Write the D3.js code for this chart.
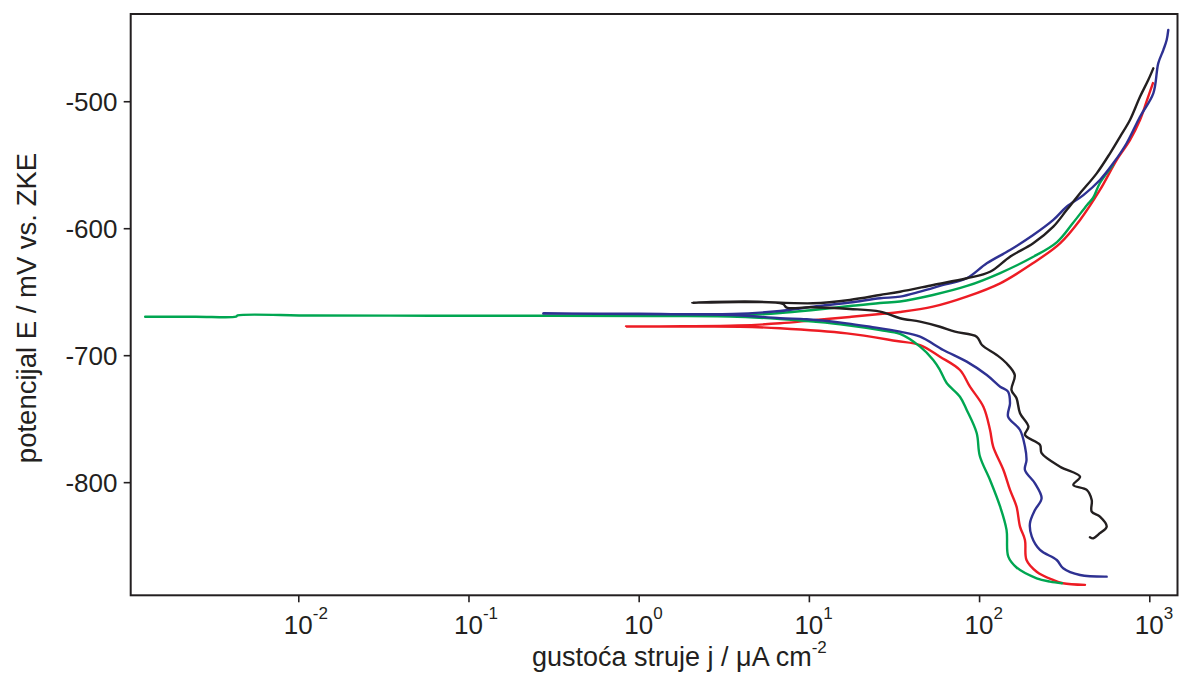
<!DOCTYPE html>
<html><head><meta charset="utf-8">
<script src="https://cdn.jsdelivr.net/npm/d3@7"></script>
<style>
body{margin:0;background:#fff}
svg{display:block}
text{font-family:"Liberation Sans",Arial,sans-serif;fill:#231f20}
</style>
</head><body>
<svg id="chart" width="1181" height="674"></svg>
<script>
// ---- data (j in µA cm^-2, E in mV vs. ZKE), in scan order ----
const xTickValues = [1e-2, 1e-1, 1, 10, 100, 1000];
const xTickExponents = ["-2", "-1", "0", "1", "2", "3"];
const yTickValues = [-500, -600, -700, -800];
const seriesNames = ["red", "green", "blue", "black"];

const redCurve = [
  [419,-880.9],[311,-879.6],[272,-877.0],[218,-870.5],[190,-861.3],[186,-845.5],[174,-835.0],[166,-819.3],
  [152,-806.1],[139,-790.4],[121,-772.0],[116,-758.9],[106,-740.6],[88.4,-724.8],[77.2,-711.7],[58.9,-701.2],
  [45.0,-692.0],[32.8,-688.8],[16.7,-682.8],[6.77,-678.8],[3.94,-677.6],[1.8,-677.5],
  [0.842,-677.4],
  [1.8,-677.2],[3.83,-676.6],[6.77,-674.9],[10.6,-672.5],[17.4,-669.9],[26.2,-667.6],[34.3,-666.0],[53.6,-661.8],
  [84.6,-653.9],[133,-643.4],[207,-627.6],[299,-611.9],[392,-593.5],[513,-569.9],[643,-546.3],[770,-530.6],
  [882,-514.8],[970,-499.1],[1051,-485.7]
];

const greenCurve = [
  [307,-879.6],[261,-878.3],[218,-875.7],[166,-867.2],[148.5,-858.7],[145,-837.6],[133,-819.3],[116,-798.3],
  [101,-779.4],[96.8,-761.3],[84.6,-743.1],[77.2,-732.7],[64.5,-721.9],[58.9,-711.7],[53.8,-703.8],[45.0,-693.3],
  [34.3,-683.3],[26.2,-680.2],[16.5,-676.2],[10.6,-673.6],[6.77,-671.5],[3.44,-669.5],
  [1.2,-669.2],[0.3,-669.0],[0.06,-668.9],[0.012,-668.8],[0.0044,-668.7],[0.0043,-669.7],[0.0025,-669.7],
  [0.00126,-669.7],
  [0.0025,-669.7],[0.0043,-669.7],[0.0044,-668.7],[0.012,-668.8],[0.06,-668.9],[0.3,-669.0],[1.2,-669.0],
  [3.44,-668.9],[6.77,-666.8],[10.6,-664.4],[17.4,-661.3],[26.2,-658.9],[34.3,-657.7],[53.6,-652.6],
  [84.9,-645.5],[133,-635.3],[207,-622.7],[287,-610.9],[356,-595.9],[431,-581.7],[467,-576.2],[513,-564.4],
  [612,-550.2]
];

const blueCurve = [
  [562,-874.4],[392,-873.1],[312,-867.8],[286,-861.3],[228,-853.4],[204,-842.9],[199,-832.4],[213,-821.9],
  [233,-812.7],[213,-800.9],[186,-790.4],[190,-782.5],[186,-772.0],[174,-758.9],[148,-748.4],[152,-737.9],
  [148,-728.7],[133,-724.8],[111,-715.6],[84.6,-705.1],[61.6,-695.9],[45.0,-685.4],[34.3,-681.5],[22.9,-677.6],
  [16.7,-674.9],[9.71,-671.7],[6.77,-670.9],[3.58,-668.3],[1.0,-667.7],
  [0.275,-667.2],
  [1.0,-667.4],[3.58,-667.6],[6.77,-665.2],[10.6,-661.8],[17.4,-658.5],[26.2,-655.2],[34.3,-653.9],[45.0,-650.0],
  [61.6,-644.7],[84.6,-639.4],[111,-627.6],[152,-617.2],[208,-605.4],[273,-593.5],[327,-583.1],[410,-573.9],
  [513,-562.0],[614,-548.9],[736,-533.1],[882,-512.2],[1056,-493.8],[1129,-470.2],[1209,-459.7],[1265,-451.8],
  [1293,-443.9]
];

const blackCurve = [
  [448,-843.4],[469,-844.2],[513,-840.2],[562,-835.0],[513,-827.2],[459,-823.2],[459,-814.0],[429,-806.1],
  [358,-802.2],[392,-795.7],[299,-787.8],[233,-777.2],[228,-770.7],[186,-762.8],[195,-756.3],[174,-745.7],
  [166,-733.9],[155,-727.4],[162,-715.6],[145,-706.4],[127,-699.8],[104,-692.0],[96.8,-685.4],[72.2,-681.5],
  [58.9,-677.6],[45.0,-673.6],[34.3,-670.9],[26.2,-665.7],[17.4,-663.6],[10.2,-662.3],[7.41,-662.6],
  [7.04,-659.7],[4.21,-658.1],[2.06,-658.7],[4.21,-657.7],[10.6,-659.1],
  [17.4,-656.5],[26.2,-652.6],[34.3,-650.0],[53.8,-644.7],[84.6,-639.4],[116,-634.3],[152,-622.4],[208,-611.9],
  [273,-598.8],[327,-585.7],[392,-572.5],[491,-556.8],[588,-541.0],[673,-528.0],[770,-514.8],[882,-496.5],
  [986,-483.3],[1056,-474.1]
];

const curves = {red: redCurve, green: greenCurve, blue: blueCurve, black: blackCurve};
const colors = {red: "#ed1c24", green: "#00a651", blue: "#2e3192", black: "#231f20"};

// ---- layout ----
const plot = {left: 130.7, top: 14, right: 1177.5, bottom: 595.3};
const svg = d3.select("#chart");

const x = d3.scaleLog().domain([0.001036, 1465]).range([plot.left, plot.right]);
const y = d3.scaleLinear().domain([-889.1, -431.3]).range([plot.bottom, plot.top]);

// curves
const line = d3.line().x(d => x(d[0])).y(d => y(d[1])).curve(d3.curveCatmullRom.alpha(0.5));
const g = svg.append("g");
seriesNames.forEach(n => {
  g.append("path").datum(curves[n])
    .attr("d", line)
    .attr("fill", "none")
    .attr("stroke", colors[n])
    .attr("stroke-width", 2.4)
    .attr("stroke-linejoin", "round")
    .attr("stroke-linecap", "round");
});

// axes
const xAxis = svg.append("g").attr("transform", `translate(0,${plot.bottom})`)
  .call(d3.axisBottom(x).tickValues(xTickValues).tickSize(7).tickFormat(() => ""));
const yAxis = svg.append("g").attr("transform", `translate(${plot.left},0)`)
  .call(d3.axisLeft(y).tickValues(yTickValues).tickSize(7).tickFormat(() => ""));
[xAxis, yAxis].forEach(a => {
  a.select(".domain").remove();
  a.selectAll(".tick line").attr("stroke", "#231f20").attr("stroke-width", 1.6);
});

// y tick labels
svg.append("g").selectAll("text").data(yTickValues).join("text")
  .attr("x", 117.5).attr("y", d => y(d)).attr("dy", "0.36em")
  .attr("text-anchor", "end").attr("font-size", 26)
  .text(d => String(d));

// x tick labels: "10" centred on tick, exponent as superscript
const xl = svg.append("g").selectAll("text").data(xTickValues).join("text")
  .attr("y", 634).attr("font-size", 26);
xl.append("tspan").attr("class", "base").text("10");
xl.append("tspan").attr("font-size", 17).attr("dy", -15).text((d, i) => xTickExponents[i]);
xl.each(function(d) {
  const w = this.querySelector(".base").getComputedTextLength();
  d3.select(this).attr("x", x(d) - w / 2);
});

// frame
svg.append("rect")
  .attr("x", plot.left).attr("y", plot.top)
  .attr("width", plot.right - plot.left).attr("height", plot.bottom - plot.top)
  .attr("fill", "none").attr("stroke", "#231f20").attr("stroke-width", 2);

// axis titles
const xt = svg.append("text").attr("x", 532).attr("y", 666).attr("font-size", 27);
xt.append("tspan").text("gustoća struje j / μA cm");
xt.append("tspan").attr("font-size", 17).attr("dy", -13).text("-2");

svg.append("text")
  .attr("transform", "translate(36,308) rotate(-90)")
  .attr("text-anchor", "middle").attr("font-size", 27.5)
  .text("potencijal E / mV vs. ZKE");
</script>
</body></html>
